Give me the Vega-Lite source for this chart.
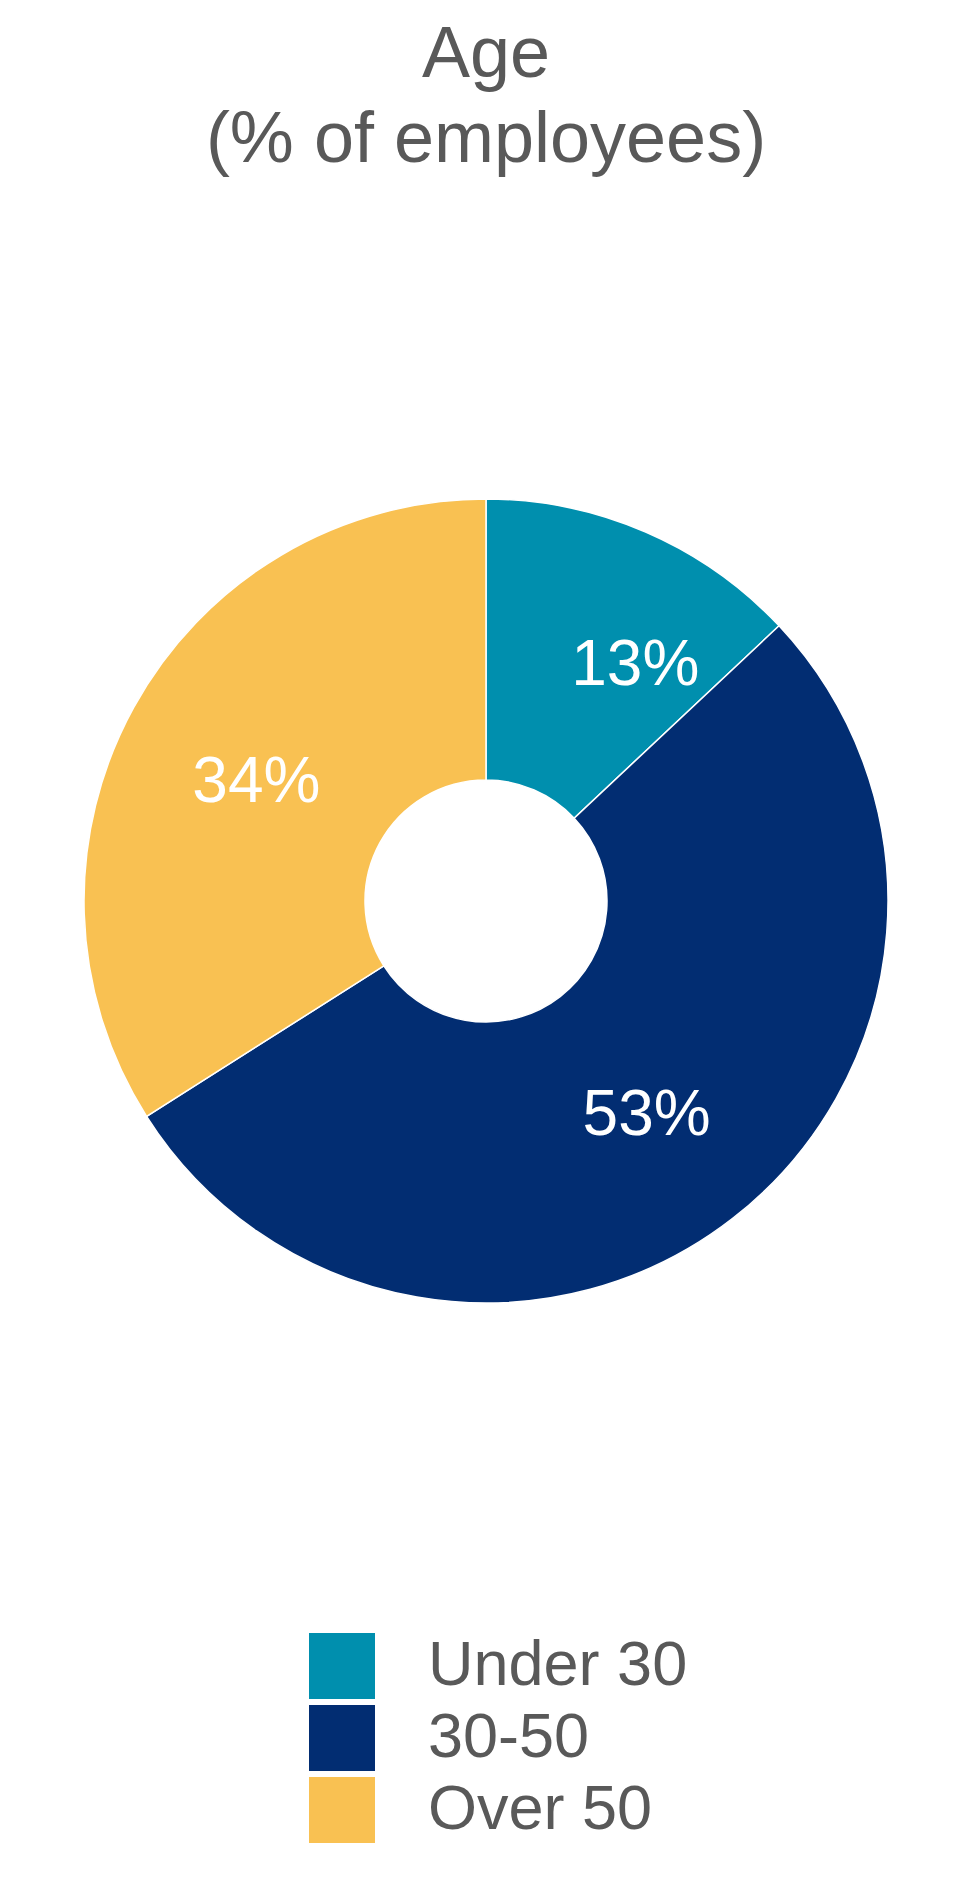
{
  "$schema": "https://vega.github.io/schema/vega-lite/v6.json",
  "width": 972,
  "height": 1400,
  "padding": {"top": 19, "left": 0, "right": 0, "bottom": 0},
  "background": "white",
  "title": {
    "text": ["Age", "(% of employees)"],
    "anchor": "middle",
    "frame": "group",
    "font": "Liberation Sans",
    "fontSize": 72,
    "fontWeight": "normal",
    "color": "#595959",
    "lineHeight": 85,
    "offset": 24,
    "baseline": "top"
  },
  "data": {
    "values": [
      {"group": "Under 30", "share": 0.13},
      {"group": "30-50", "share": 0.53},
      {"group": "Over 50", "share": 0.34}
    ]
  },
  "transform": [{"window": [{"op": "row_number", "as": "idx"}]}],
  "encoding": {
    "theta": {"field": "share", "type": "quantitative", "stack": true},
    "order": {"field": "idx", "type": "quantitative"}
  },
  "layer": [
    {
      "mark": {"type": "arc", "radius": 402, "innerRadius": 121, "stroke": "#ffffff", "strokeWidth": 1.5},
      "encoding": {
        "color": {
          "field": "group",
          "type": "nominal",
          "sort": ["Under 30", "30-50", "Over 50"],
          "scale": {"domain": ["Under 30", "30-50", "Over 50"], "range": ["#008FAE", "#022D72", "#F9C152"]},
          "legend": {
            "orient": "none",
            "legendX": 309,
            "legendY": 1432,
            "title": null,
            "symbolType": "square",
            "symbolSize": 4356,
            "symbolStrokeWidth": 0,
            "symbolOpacity": 1,
            "labelFont": "Liberation Sans",
            "labelFontSize": 63,
            "labelColor": "#595959",
            "labelOffset": 53,
            "labelLimit": 0,
            "rowPadding": 6,
            "padding": 0
          }
        }
      }
    },
    {
      "mark": {"type": "text", "radius": 262, "font": "Liberation Sans", "fontSize": 64, "fill": "#ffffff", "dy": 8},
      "encoding": {
        "text": {"field": "share", "type": "quantitative", "format": ".0%", "condition": {"test": "datum.group === 'Under 30'", "value": ""}}
      }
    },
    {
      "mark": {"type": "text", "radius": 265, "font": "Liberation Sans", "fontSize": 64, "fill": "#ffffff", "dx": 44, "dy": 8},
      "encoding": {
        "text": {"field": "share", "type": "quantitative", "format": ".0%", "condition": {"test": "datum.group !== 'Under 30'", "value": ""}}
      }
    }
  ]
}
